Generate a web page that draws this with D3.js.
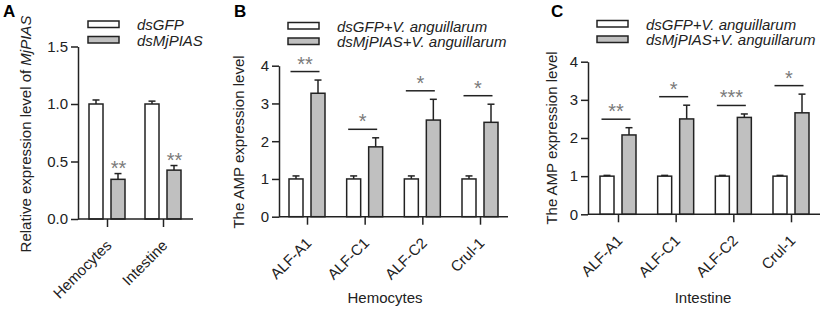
<!DOCTYPE html>
<html lang="en">
<head>
  <meta charset="UTF-8">
  <title>MjPIAS knockdown and AMP expression</title>
  <style>
    body { margin: 0; background: #fff; }
    svg { display: block; font-family: 'Liberation Sans', Arial, sans-serif; }
    .axis path, .axis line { stroke: #222; stroke-width: 1.5; }
    .axis text { font-size: 15px; fill: #222; }
  </style>
  <script src="https://d3js.org/d3.v7.min.js"></script>
</head>
<body>
  <svg></svg>
  <script>
    const width = 833, height = 312;

    // Panel A: MjPIAS knockdown efficiency
    const tissues = ["Hemocytes", "Intestine"];
    const aGFP = [1.0, 1.0];
    const aGFPErr = [0.035, 0.025];
    const aPIAS = [0.345, 0.425];
    const aPIASErr = [0.05, 0.04];
    const aStars = ["**", "**"];
    const aTicks = [0, 0.5, 1.0, 1.5];

    // Panels B and C: AMP expression after V. anguillarum challenge
    const genes = ["ALF-A1", "ALF-C1", "ALF-C2", "Crul-1"];
    const bGFP = [1, 1, 1, 1];
    const bGFPErr = [0.08, 0.08, 0.08, 0.08];
    const bPIAS = [3.27, 1.85, 2.56, 2.5];
    const bPIASErr = [0.35, 0.24, 0.55, 0.48];
    const bStars = ["**", "*", "*", "*"];

    const cGFP = [1, 1, 1, 1];
    const cGFPErr = [0.02, 0.02, 0.02, 0.02];
    const cPIAS = [2.08, 2.5, 2.54, 2.66];
    const cPIASErr = [0.19, 0.36, 0.09, 0.49];
    const cStars = ["**", "*", "***", "*"];
    const ampTicks = [0, 1, 2, 3, 4];

    const svg = d3.select("svg").attr("width", width).attr("height", height);

    const panels = [
      {
        letter: "A", letterX: 3, cats: tissues, ctrl: aGFP, ctrlErr: aGFPErr,
        trt: aPIAS, trtErr: aPIASErr, stars: aStars, starMode: "above",
        domain: [0, 1.5], ticks: aTicks, fmt: d3.format(".1f"),
        axisX: 78, y0: 219, yTop: 46.5, xEnd: 193, catRange: [107, 163],
        yLabel: ["Relative expression level of ", "MjPIAS"], yLabelX: 31, yLabelY: 134,
        legend: ["dsGFP", "dsMjPIAS"], legX: 88, legY: 21, xTitle: null
      },
      {
        letter: "B", letterX: 234, cats: genes, ctrl: bGFP, ctrlErr: bGFPErr,
        trt: bPIAS, trtErr: bPIASErr, stars: bStars, starMode: "line",
        domain: [0, 4], ticks: ampTicks, fmt: d3.format("d"),
        axisX: 279, y0: 216.7, yTop: 65.7, xEnd: 508, catRange: [307, 480],
        yLabel: ["The AMP expression level"], yLabelX: 244, yLabelY: 142,
        legend: ["dsGFP+V. anguillarum", "dsMjPIAS+V. anguillarum"], legX: 288, legY: 22.5,
        xTitle: "Hemocytes", xTitleX: 385
      },
      {
        letter: "C", letterX: 551, cats: genes, ctrl: cGFP, ctrlErr: cGFPErr,
        trt: cPIAS, trtErr: cPIASErr, stars: cStars, starMode: "line",
        domain: [0, 4], ticks: ampTicks, fmt: d3.format("d"),
        axisX: 588, y0: 214.3, yTop: 61.7, xEnd: 820, catRange: [618, 791],
        yLabel: ["The AMP expression level"], yLabelX: 557, yLabelY: 138,
        legend: ["dsGFP+V. anguillarum", "dsMjPIAS+V. anguillarum"], legX: 597, legY: 20.5,
        xTitle: "Intestine", xTitleX: 703
      }
    ];

    const barW = 14, barOff = 11;

    panels.forEach(p => {
      const g = svg.append("g");
      const y = d3.scaleLinear().domain(p.domain).range([p.y0, p.yTop]);
      const x = d3.scalePoint().domain(p.cats).range(p.catRange);

      // bars
      const series = [
        { vals: p.ctrl, errs: p.ctrlErr, dx: -barOff, fill: "#fff" },
        { vals: p.trt, errs: p.trtErr, dx: barOff, fill: "#c0c0c0" }
      ];
      series.forEach(s => {
        const grp = g.append("g");
        // error bars (upper only)
        grp.selectAll("line.err")
          .data(p.cats)
          .join("line")
          .attr("x1", (d) => x(d) + s.dx).attr("x2", (d) => x(d) + s.dx)
          .attr("y1", (d, i) => y(s.vals[i])).attr("y2", (d, i) => y(s.vals[i] + s.errs[i]))
          .attr("stroke", "#222").attr("stroke-width", 1.5);
        grp.selectAll("line.cap")
          .data(p.cats)
          .join("line")
          .attr("x1", (d) => x(d) + s.dx - 3.5).attr("x2", (d) => x(d) + s.dx + 3.5)
          .attr("y1", (d, i) => y(s.vals[i] + s.errs[i])).attr("y2", (d, i) => y(s.vals[i] + s.errs[i]))
          .attr("stroke", "#222").attr("stroke-width", 1.5);
        grp.selectAll("rect")
          .data(p.cats)
          .join("rect")
          .attr("x", d => x(d) + s.dx - barW / 2)
          .attr("width", barW)
          .attr("y", (d, i) => y(s.vals[i]))
          .attr("height", (d, i) => y(0) - y(s.vals[i]))
          .attr("fill", s.fill)
          .attr("stroke", "#222")
          .attr("stroke-width", 1.5);
      });

      // significance marks
      p.cats.forEach((c, i) => {
        const top = y(p.trt[i] + p.trtErr[i]);
        if (p.starMode === "above") {
          g.append("text")
            .attr("x", x(c) + barOff + 0.5).attr("y", top + 1)
            .attr("text-anchor", "middle")
            .attr("font-size", 20).attr("fill", "#7a7a7a")
            .text(p.stars[i]);
        } else {
          const ly = top - 8.5;
          g.append("line")
            .attr("x1", x(c) - 16.5).attr("x2", x(c) + 12.5)
            .attr("y1", ly).attr("y2", ly)
            .attr("stroke", "#222").attr("stroke-width", 1.5);
          g.append("text")
            .attr("x", x(c) - 2).attr("y", ly - 1)
            .attr("text-anchor", "middle")
            .attr("font-size", 20).attr("fill", "#7a7a7a")
            .text(p.stars[i]);
        }
      });

      // y axis
      g.append("g")
        .attr("class", "axis")
        .attr("transform", `translate(${p.axisX},0)`)
        .call(d3.axisLeft(y).tickValues(p.ticks).tickFormat(p.fmt).tickSize(7).tickSizeOuter(0).tickPadding(3));

      // x axis
      const xa = g.append("g")
        .attr("class", "axis")
        .attr("transform", `translate(0,${p.y0})`)
        .call(d3.axisBottom(x).tickSize(8).tickSizeOuter(0).tickPadding(4));
      xa.select(".domain").attr("d", `M${p.axisX},0H${p.xEnd}`);
      xa.selectAll(".tick text")
        .attr("text-anchor", "end")
        .attr("transform", "rotate(-45)")
        .attr("dx", "-15.8px")
        .attr("dy", "10.9px")
        .attr("font-size", 15);

      // y label
      const yl = g.append("text")
        .attr("transform", `translate(${p.yLabelX},${p.yLabelY}) rotate(-90)`)
        .attr("text-anchor", "middle")
        .attr("font-size", 15)
        .attr("fill", "#222");
      yl.append("tspan").text(p.yLabel[0]);
      if (p.yLabel[1]) yl.append("tspan").attr("font-style", "italic").text(p.yLabel[1]);

      // x title
      if (p.xTitle) {
        g.append("text")
          .attr("x", p.xTitleX).attr("y", 303)
          .attr("text-anchor", "middle")
          .attr("font-size", 15).attr("fill", "#222")
          .text(p.xTitle);
      }

      // legend
      const fills = ["#fff", "#c0c0c0"];
      p.legend.forEach((t, i) => {
        const ly = p.legY + i * 15.5;
        g.append("rect")
          .attr("x", p.legX).attr("y", ly)
          .attr("width", 31).attr("height", 6.5)
          .attr("fill", fills[i]).attr("stroke", "#222").attr("stroke-width", 1.5);
        g.append("text")
          .attr("x", p.legX + 49).attr("y", ly + 9)
          .attr("font-size", 15).attr("font-style", "italic").attr("fill", "#222")
          .text(t);
      });

      // panel letter
      g.append("text")
        .attr("x", p.letterX).attr("y", 17)
        .attr("font-size", 17).attr("font-weight", "bold")
        .text(p.letter);
    });
  </script>
</body>
</html>
